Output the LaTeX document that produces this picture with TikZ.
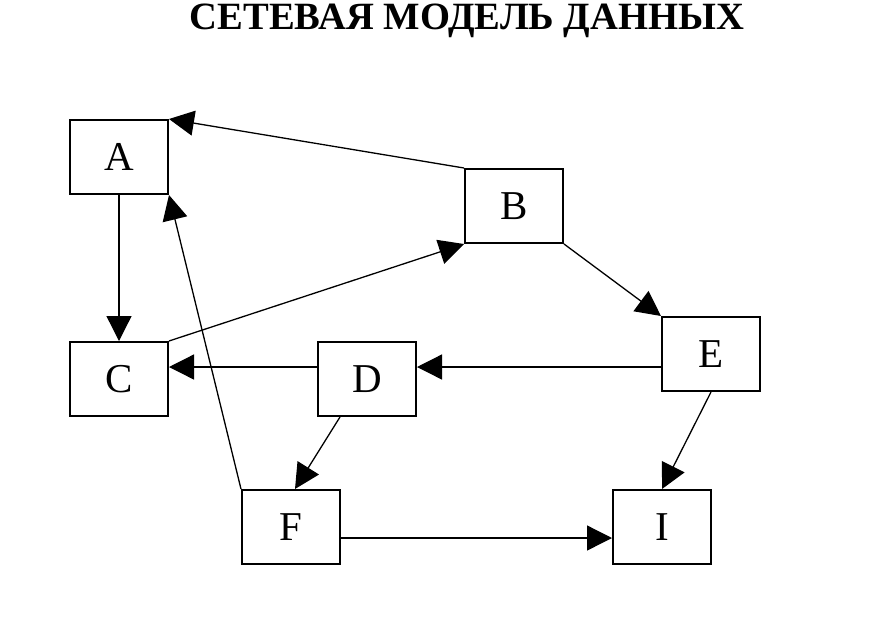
\documentclass[tikz,border=0pt]{standalone}
\usepackage{fontspec}
\setmainfont{Liberation Serif}
\usetikzlibrary{arrows.meta,positioning}

\tikzset{
  rec/.style={draw,line width=1pt,minimum width=49pt,minimum height=37pt,inner sep=0pt,font=\fontsize{20.5}{20.5}\selectfont},
  arr/.style={line width=0.65pt,-{Triangle[length=12.5pt,width=12.5pt]}}
}

\begin{document}
\begin{tikzpicture}[x=0.5pt,y=-0.5pt]
      \useasboundingbox (0,0) rectangle (894,633);
      \node[font=\bfseries\fontsize{19.3}{19.3}\selectfont] (title) at (467,21) {СЕТЕВАЯ МОДЕЛЬ ДАННЫХ};

      \node[rec] (A) at (119,157) {A};
      \node[rec] (B) at (514,206) {B};
      \node[rec] (C) at (119,379) {C};
      \node[rec] (D) at (367,379) {D};
      \node[rec] (E) at (711,354) {E};
      \node[rec] (F) at (291,527) {F};
      \node[rec] (I) at (662,527) {I};

      \draw[arr] (B.north west) -- (A.north east);
      \draw[arr] (A) -- (C);
      \draw[arr] (C.north east) -- (B.south west);
      \draw[arr] (B.south east) -- (E.north west);
      \draw[arr] ([yshift=-6.5pt]E.west) -- ([yshift=-6.5pt]E.west -| D.east);
      \draw[arr] ([yshift=6pt]D.west) -- ([yshift=6pt]C.east);
      \draw[arr] ([xshift=-13.5pt]D.south) -- ([xshift=2pt]F.north);
      \draw[arr] (F.north west) -- (A.south east);
      \draw[arr] (E.south) -- (I.north);
      \draw[arr] ([yshift=-5.5pt]F.east) -- ([yshift=-5.5pt]F.east -| I.west);
\end{tikzpicture}
\end{document}
